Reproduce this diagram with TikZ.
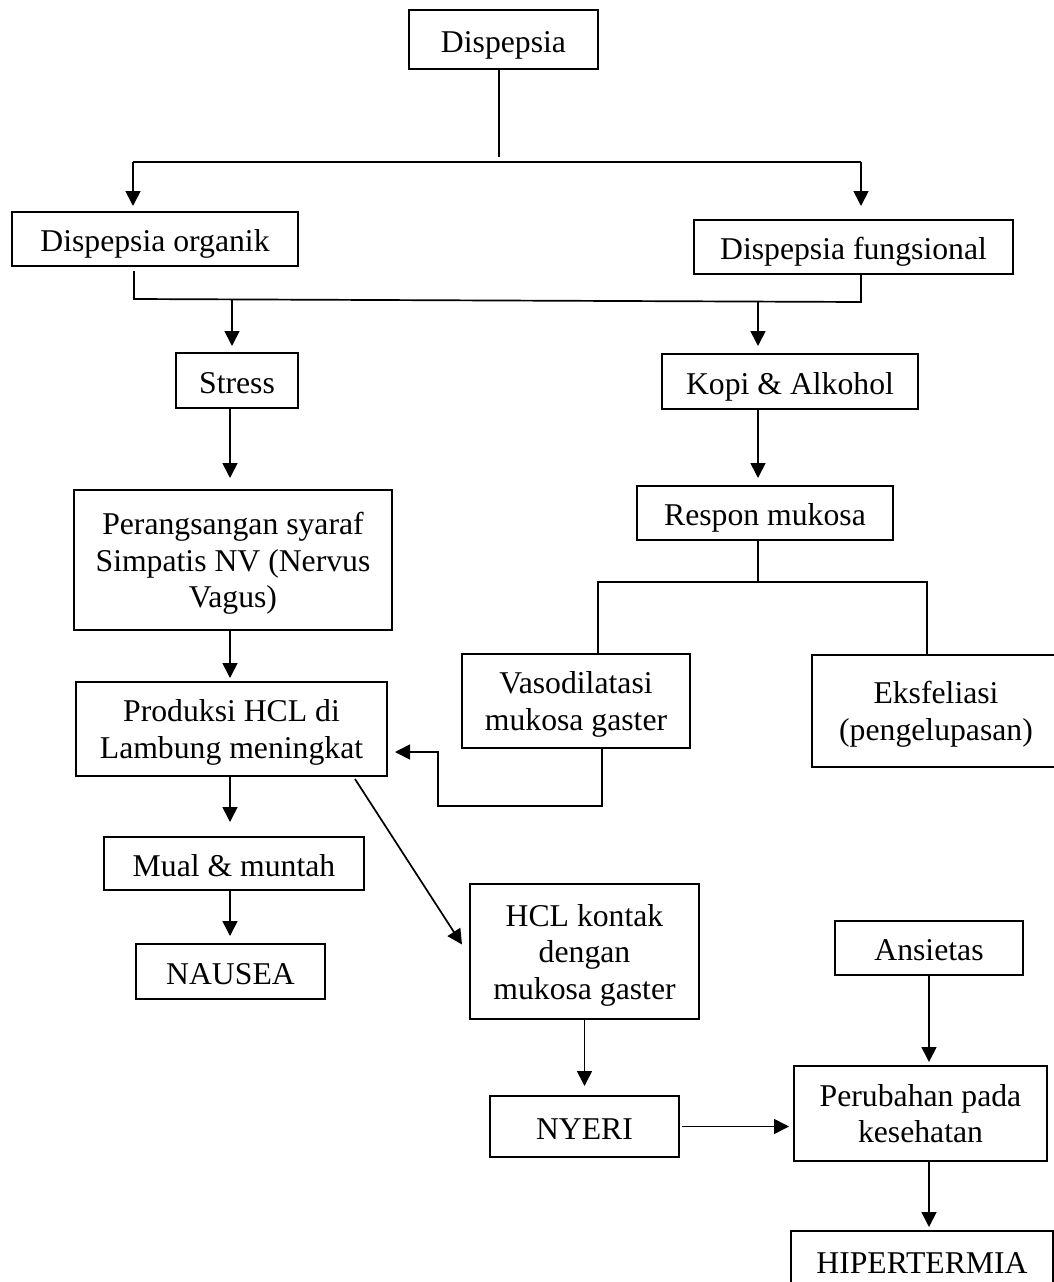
\documentclass[tikz,border=0pt]{standalone}
\usepackage{fontspec}
\setmainfont{Liberation Serif}
\usetikzlibrary{arrows.meta}

\begin{document}
\begin{tikzpicture}[x=1pt,y=-1pt,
  flowbox/.style={draw, line width=2pt, inner sep=0pt, align=center, font=\fontsize{31.7}{36.5}\selectfont},
  oneline/.style={text height=25pt, text depth=0pt},
  manyline/.style={text depth=0pt},
  conn/.style={line width=1.7pt},
  arr/.style={line width=1.7pt, -{Triangle[length=15pt,width=15pt]}}]
\useasboundingbox (0,0) rectangle (1054,1282);

\node [flowbox, oneline, minimum width=189pt, minimum height=59pt] (disp) at (503.5,39.5) {Dispepsia};
\node [flowbox, oneline, minimum width=286pt, minimum height=54pt] (org) at (155,239) {Dispepsia organik};
\node [flowbox, oneline, minimum width=319pt, minimum height=54pt] (fung) at (853.5,247) {Dispepsia fungsional};

\node [flowbox, oneline, minimum width=122pt, minimum height=55pt] (stress) at (237,380.5) {Stress};
\node [flowbox, oneline, minimum width=256pt, minimum height=55pt] (kopi) at (790,381.5) {Kopi \& Alkohol};

\node [flowbox, manyline, minimum width=318pt, minimum height=140pt] (pera) at (233,560) {Perangsangan syaraf\\Simpatis NV (Nervus\\Vagus)};
\node [flowbox, oneline, minimum width=256pt, minimum height=54pt] (respon) at (765,513) {Respon mukosa};

\node [flowbox, manyline, minimum width=228pt, minimum height=94pt] (vaso) at (576,701) {Vasodilatasi\\mukosa gaster};
\node [flowbox, manyline, minimum width=248pt, minimum height=112pt] (eks) at (936,711) {Eksfeliasi\\(pengelupasan)};
\node [flowbox, manyline, minimum width=311pt, minimum height=94pt] (prod) at (231.5,729) {Produksi HCL di\\Lambung meningkat};

\node [flowbox, oneline, minimum width=260pt, minimum height=53pt] (mual) at (234,863.5) {Mual \& muntah};
\node [flowbox, oneline, minimum width=189pt, minimum height=55pt] (nausea) at (230.5,971.5) {NAUSEA};
\node [flowbox, manyline, minimum width=229pt, minimum height=135pt] (hcl) at (584.5,951.5) {HCL kontak\\dengan\\mukosa gaster};
\node [flowbox, oneline, minimum width=189pt, minimum height=61pt] (nyeri) at (584.5,1126.5) {NYERI};
\node [flowbox, oneline, minimum width=188pt, minimum height=54pt] (ansietas) at (929,948) {Ansietas};
\node [flowbox, manyline, minimum width=253pt, minimum height=95pt] (perub) at (920.5,1113.5) {Perubahan pada\\kesehatan};
\node [flowbox, oneline, minimum width=262pt, minimum height=60pt] (hiper) at (922,1261) {HIPERTERMIA};

\coordinate (top) at (499,157);
\coordinate (brL) at (133,162);
\coordinate (brR) at (861,162);
\coordinate (jL) at (134,299);
\coordinate (jR) at (861,302);
\coordinate (jS) at (232,299.3);
\coordinate (jK) at (758,301.6);
\coordinate (mid) at (230,0);
\coordinate (sL) at (598,582);
\coordinate (sR) at (927,582);
\coordinate (rA) at (602,806);
\coordinate (rB) at (438,806);
\coordinate (rC) at (438,752);

\draw [conn] (disp.south -| top) -- (top);
\draw [line width=2.4pt] (brL) -- (brR);
\draw [arr, shorten >=5pt] (brL) -- (org.north -| brL);
\draw [arr, shorten >=13pt] (brR) -- (fung.north -| brR);

\draw [conn, shorten <=4pt] (org.south -| jL) -- (jL) -- (jR) -- (fung.south -| jR);
\draw [arr, shorten >=6pt] (jS) -- (jS |- stress.north);
\draw [arr, shorten >=7pt] (jK) -- (jK |- kopi.north);

\draw [arr, shorten >=11pt] (stress.south -| mid) -- (pera.north -| mid);
\draw [arr, shorten >=3pt] (pera.south -| mid) -- (prod.north -| mid);
\draw [arr, shorten >=14pt] (prod.south -| mid) -- (mual.north -| mid);
\draw [arr, shorten >=7pt] (mual.south -| mid) -- (nausea.north -| mid);
\draw [arr] ([xshift=-33pt,yshift=-2pt]prod.south east) -- ([xshift=-7pt,yshift=7pt]hcl.west);

\draw [arr, shorten >=7pt] (kopi.south -| jK) -- (respon.north -| jK);
\draw [conn] (respon.south -| jK) -- (jK |- sL);
\draw [conn] (vaso.north -| sL) -- (sL) -- (sR) -- (eks.north -| sR);
\draw [arr, shorten >=7pt] (vaso.south -| rA) -- (rA) -- (rB) -- (rC) -- (prod.east |- rC);

\draw [arr, shorten >=9pt] (hcl.south) -- (nyeri.north);
\draw [arr, shorten <=2pt, shorten >=4pt] (nyeri.east) -- (nyeri.east -| perub.west);
\draw [arr, shorten >=3pt] (ansietas.south) -- (ansietas.south |- perub.north);
\draw [arr, shorten >=3pt] (ansietas.south |- perub.south) -- (ansietas.south |- hiper.north);
\end{tikzpicture}
\end{document}
